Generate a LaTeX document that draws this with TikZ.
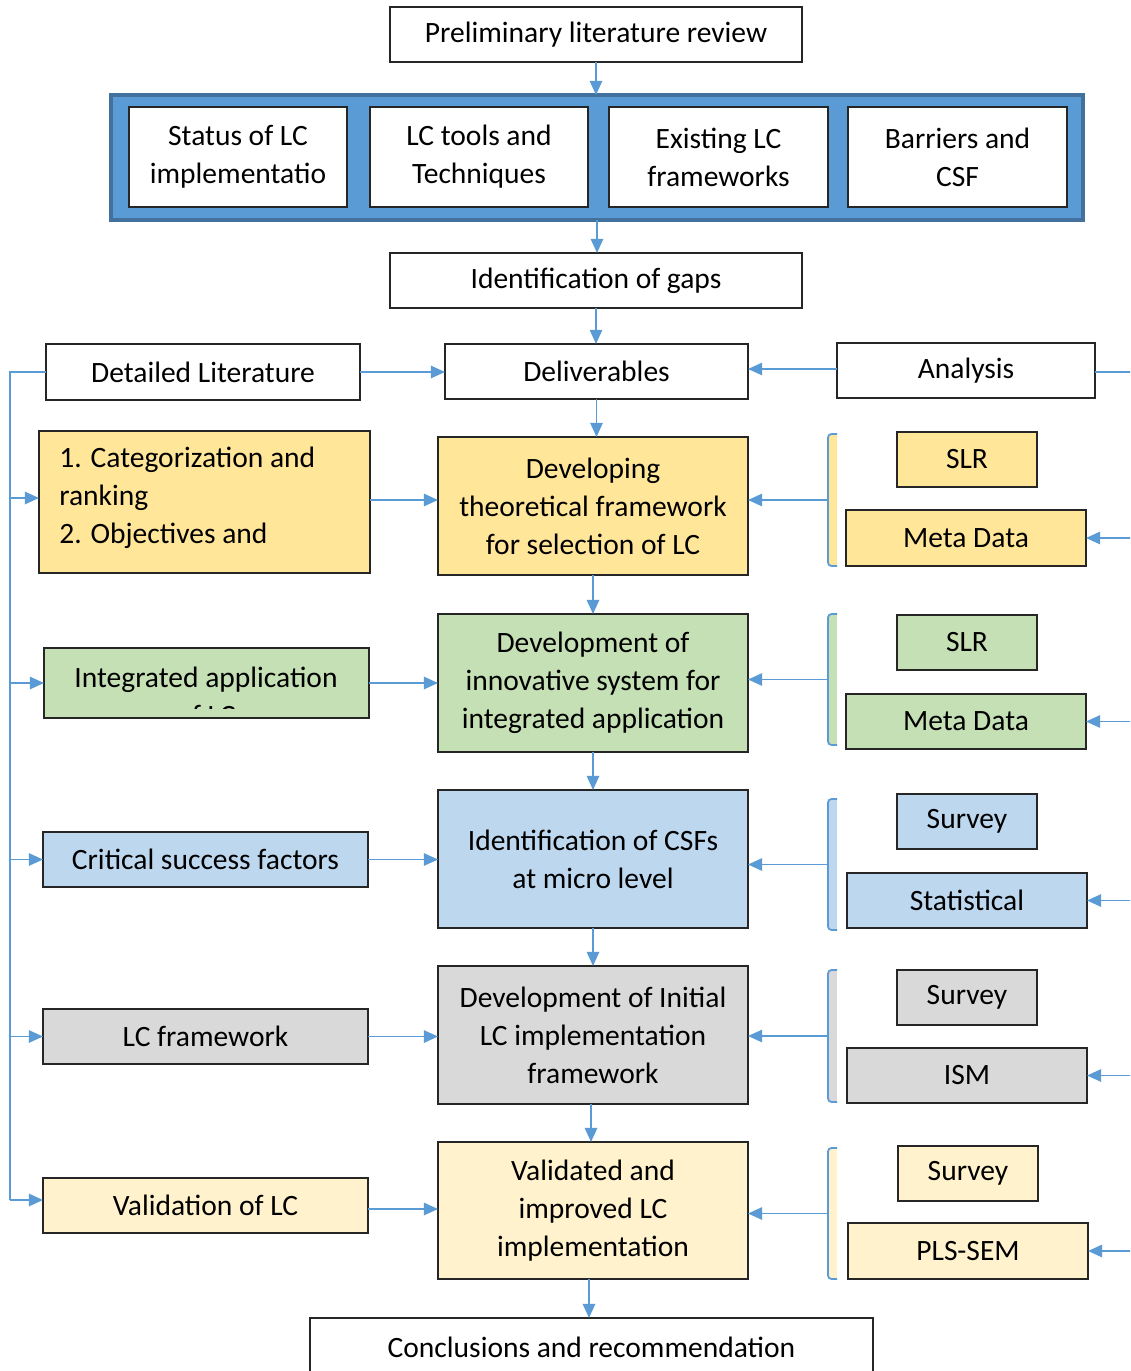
\documentclass[tikz,border=0pt]{standalone}
\usepackage{fontspec}
\setmainfont{Carlito}
\usetikzlibrary{arrows.meta}
\definecolor{wireblue}{HTML}{5B9BD5}
\definecolor{contfill}{HTML}{5B9BD5}
\definecolor{contline}{HTML}{41719C}
\definecolor{rowA}{HTML}{FFE699}
\definecolor{rowB}{HTML}{C5E0B4}
\definecolor{rowC}{HTML}{BDD7EE}
\definecolor{rowD}{HTML}{D9D9D9}
\definecolor{rowE}{HTML}{FFF2CC}
% box given by its corners: style, name, x1, y1, x2, y2, text
\newcommand\bx[7]{%
  \pgfmathsetmacro\bxw{(#5-#3)*0.02}%
  \pgfmathsetmacro\bxh{(#6-#4)*0.02}%
  \node[#1, minimum width=\bxw cm, minimum height=\bxh cm] (#2) at ({(#3+#5)/2},{(#4+#6)/2}) {#7};}
% bracket gathering the two method boxes: name, top, bottom, colour
\newcommand\brk[4]{%
  \fill[#4] (829,#2) rectangle (837,#3);
  \draw[wire, rounded corners=2pt] (837,#2) -- (828,#2) -- (828,#3) -- (837,#3);
  \coordinate (#1) at (822,{(#2+#3)/2});
  \draw[wire] (828,{(#2+#3)/2}) -- (#1);}
\newcommand\txtfont{\fontsize{16.8}{21.6}\selectfont}
\begin{document}
\begin{tikzpicture}[x=0.02cm,y=-0.02cm,
  box/.style={draw=black!85, line width=0.7pt, inner sep=0pt, outer sep=0pt,
    font=\txtfont, align=center},
  wire/.style={draw=wireblue, line width=1pt},
  arr/.style={wire, -{Triangle[length=8pt,width=7pt]}}]
\clip (0,0) rectangle (1130,1371);
\fill[white] (0,0) rectangle (1130,1371);

% top of the flow
\bx{box, fill=white}{pre}{390}{7}{802}{62}{Preliminary literature review}
\bx{box, fill=contfill, draw=contline, line width=1.8pt}{cont}{111}{95}{1083}{220}{}
\bx{box, fill=white}{t1}{129}{107}{347}{207}{Status of LC\\implementatio}
\bx{box, fill=white}{t2}{370}{107}{588}{207}{LC tools and\\Techniques}
\bx{box, fill=white}{t3}{609}{107}{828}{207}{Existing LC\\frameworks}
\bx{box, fill=white}{t4}{848}{107}{1067}{207}{Barriers and\\CSF}
\bx{box, fill=white}{gaps}{390}{253}{802}{308}{Identification of gaps}
\bx{box, fill=white}{dl}{46}{344}{360}{400}{Detailed Literature}
\bx{box, fill=white}{deliv}{445}{344}{748}{399}{Deliverables}
\bx{box, fill=white}{an}{837}{343}{1095}{398}{Analysis}

% row 1
\bx{box, fill=rowA}{l1}{39}{431}{370}{573}{}
\node[font=\txtfont, align=left, anchor=west, inner sep=0pt] (l1t) at (59,498)
  {1. Categorization and\\ranking\\2. Objectives and};
\bx{box, fill=rowA}{c1}{438}{437}{748}{575}{Developing\\theoretical framework\\for selection of LC}
\bx{box, fill=rowA}{s1}{897}{432}{1037}{487}{SLR}
\bx{box, fill=rowA}{m1}{846}{510}{1086}{566}{Meta Data}
\brk{b1}{434}{566}{rowA}

% row 2
\bx{box, fill=rowB}{l2}{44}{648}{369}{718}{}
\begin{scope}
  \clip (45,649) rectangle (368,708);
  \node[font=\txtfont, align=center, inner sep=0pt] (l2t) at (206,696)
    {Integrated application\\of LC};
\end{scope}
\bx{box, fill=rowB}{c2}{438}{614}{748}{752}{Development of\\innovative system for\\integrated application}
\bx{box, fill=rowB}{s2}{897}{615}{1037}{670}{SLR}
\bx{box, fill=rowB}{m2}{846}{694}{1086}{749}{Meta Data}
\brk{b2}{614}{745}{rowB}

% row 3
\bx{box, fill=rowC}{l3}{43}{832}{368}{887}{Critical success factors}
\bx{box, fill=rowC}{c3}{438}{790}{748}{928}{Identification of CSFs\\at micro level}
\bx{box, fill=rowC}{s3}{897}{794}{1037}{849}{Survey}
\bx{box, fill=rowC}{m3}{847}{873}{1087}{928}{Statistical}
\brk{b3}{799}{930}{rowC}

% row 4
\bx{box, fill=rowD}{l4}{43}{1009}{368}{1064}{LC framework}
\bx{box, fill=rowD}{c4}{438}{966}{748}{1104}{Development of Initial\\LC implementation\\framework}
\bx{box, fill=rowD}{s4}{897}{970}{1037}{1025}{Survey}
\bx{box, fill=rowD}{m4}{847}{1048}{1087}{1103}{ISM}
\brk{b4}{970}{1102}{rowD}

% row 5
\bx{box, fill=rowE}{l5}{43}{1178}{368}{1233}{Validation of LC}
\bx{box, fill=rowE}{c5}{438}{1142}{748}{1279}{Validated and\\improved LC\\implementation}
\bx{box, fill=rowE}{s5}{898}{1146}{1038}{1201}{Survey}
\bx{box, fill=rowE}{m5}{848}{1223}{1088}{1279}{PLS-SEM}
\brk{b5}{1148}{1279}{rowE}

% end of the flow
\bx{box, fill=white}{concl}{310}{1318}{873}{1376}{Conclusions and recommendation}

% main vertical flow
\draw[arr] (pre.south) -- (pre.south |- cont.north);
\draw[arr] (cont.south) -- (cont.south |- gaps.north);
\draw[arr] (gaps.south) -- (gaps.south |- deliv.north);
\draw[arr] (deliv.south) -- (deliv.south |- c1.north);
\draw[arr] (c1.south) -- (c1.south |- c2.north);
\draw[arr] (c2.south) -- (c2.south |- c3.north);
\draw[arr] (c3.south) -- (c3.south |- c4.north);
\draw[arr] ([xshift=-2*0.02cm]c4.south) -- ([xshift=-2*0.02cm]c4.south |- c5.north);
\draw[arr] ([xshift=-4*0.02cm]c5.south) -- ([xshift=-4*0.02cm]c5.south |- concl.north);

% header row links
\draw[arr] (dl.east) -- (deliv.west |- dl.east);
\draw[arr] ([yshift=1.5*0.02cm]an.west) -- ([yshift=1.5*0.02cm]deliv.east |- an.west);

% left rail feeding the literature boxes
\coordinate (lr) at (10,372);
\draw[wire] (dl.west) -- (dl.west -| lr) -- (lr |- 0,1200);
\draw[arr] (lr |- 0,498) -- (l1.west |- 0,498);
\foreach \n in {l2,l3,l4} \draw[arr] (lr |- \n.west) -- (\n.west);
\draw[arr] (lr |- 0,1200) -- (l5.west |- 0,1200);

% literature boxes into the deliverables
\draw[arr] (l1.east |- 0,500) -- (c1.west |- 0,500);
\foreach \a/\b in {l2/c2,l3/c3,l4/c4} \draw[arr] (\a.east) -- (\b.west |- \a.east);
\draw[arr] (l5.east |- 0,1209) -- (c5.west |- 0,1209);

% analysis methods into the deliverables
\foreach \a/\b in {b1/c1,b2/c2,b3/c3,b4/c4,b5/c5} \draw[arr] (\a) -- (\b.east |- \a);

% right rail feeding the analysis boxes
\coordinate (rr) at (1132,372);
\draw[wire] (an.east |- rr) -- (rr);
\foreach \n in {m1,m2,m3,m4,m5} \draw[arr] (rr |- \n.east) -- (\n.east);
\end{tikzpicture}
\end{document}
